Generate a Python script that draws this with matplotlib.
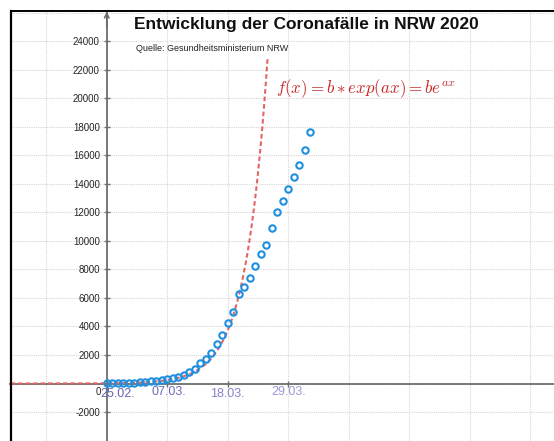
import numpy as np
import matplotlib
matplotlib.use("Agg")
import matplotlib.pyplot as plt
from matplotlib.lines import Line2D

# ---- data (days since 25.02.2020, cumulative cases NRW) ----
cases = [1, 4, 20, 30, 55, 70, 100, 115, 175, 200, 280, 350, 380, 480, 600,
         800, 1050, 1420, 1700, 2120, 2770, 3400, 4270, 4990, 6260, 6770,
         7380, 8260, 9120, 9730, 10920, 12050, 12830, 13670, 14470, 15310,
         16410, 17670]
days = np.arange(len(cases))

date_ticks = [0, 11, 22, 33]
date_labels = ["25.02.", "07.03.", "18.03.", "29.03."]
date_colors = ["#6464b4", "#6a6abc", "#8484c8", "#9898d4"]

y_ticks = [-2000, 2000, 4000, 6000, 8000, 10000, 12000, 14000, 16000,
           18000, 20000, 22000, 24000]

# exponential model f(x) = b * exp(a x)
a_param = 0.25
b_param = 15.3
f_top = 22900

W, H = 554, 441
fig = plt.figure(figsize=(W / 100, H / 100), dpi=100)
left_px, top_px = 10.5, 11
ax = fig.add_axes([left_px / W, 0, (W - left_px) / W, (H - top_px) / H])
ax.set_xlim(-17.5, 81.3)
ax.set_ylim(-4035, 26140)

# grid
for gx in np.arange(-11, 82, 11):
    ax.axvline(gx, color="#d6d6d6", lw=0.8, ls=(0, (1, 1)), zorder=0)
for gy in np.arange(-4000, 26001, 2000):
    ax.axhline(gy, color="#d6d6d6", lw=0.8, ls=(0, (1, 1)), zorder=0)

# axes through origin
for s in ["top", "right"]:
    ax.spines[s].set_visible(False)
ax.spines["left"].set_position(("data", 0))
ax.spines["bottom"].set_position(("data", 0))
ax.spines["left"].set_color("#6e6e6e")
ax.spines["bottom"].set_color("#6e6e6e")
ax.spines["left"].set_linewidth(1.3)
ax.spines["bottom"].set_linewidth(1.3)
ax.set_xticks(date_ticks)
ax.set_xticklabels([])
ax.set_yticks(y_ticks)
ax.set_yticklabels([str(v) for v in y_ticks], fontsize=7,
                   family=["Liberation Sans", "DejaVu Sans"], color="#262626")
ax.tick_params(axis="both", direction="inout", length=4, width=1, color="#6e6e6e")
ax.tick_params(axis="y", pad=3)

# arrow on y-axis
ax.annotate("", xy=(0, 26100), xytext=(0, 25000),
            arrowprops=dict(arrowstyle="->", color="#6e6e6e", lw=1.2,
                            shrinkA=0, shrinkB=0, mutation_scale=8))

# origin label
ax.annotate("0", xy=(0, 0), xytext=(-6, -6), textcoords="offset points",
            ha="center", va="center", fontsize=7,
            family=["Liberation Sans", "DejaVu Sans"], color="#262626")

# date labels
dx_pts = [8, 1, 0, 0]
dy_pts = [-7.8, -6.3, -7.8, -6.0]
for d, lab, c, ox, oy in zip(date_ticks, date_labels, date_colors, dx_pts, dy_pts):
    ax.annotate(lab, xy=(d, 0), xytext=(ox, oy), textcoords="offset points",
                ha="center", va="center", fontsize=9,
                family=["Liberation Sans", "DejaVu Sans"], color=c)

# model curve
x_end = np.log(f_top / b_param) / a_param
xf = np.linspace(-17.5, x_end, 500)
ax.plot(xf, b_param * np.exp(a_param * xf), color="#e46464", lw=1.5,
        ls=(0, (2.2, 1.4)), zorder=3)

# data
ax.plot(days, cases, "o", mfc="none", mec="#1f8fe0", mew=1.5, ms=4.6, zorder=4)

# frame
fig.add_artist(Line2D([left_px / W, left_px / W], [0, 1 - top_px / H],
                      color="black", lw=1.6))
fig.add_artist(Line2D([left_px / W, 1], [1 - top_px / H, 1 - top_px / H],
                      color="black", lw=1.4))

# texts
fig.text(306.5 / W, 1 - 25 / H, "Entwicklung der Coronafälle in NRW 2020",
         ha="center", va="center", fontsize=12.5, fontweight="bold",
         family=["Liberation Sans", "DejaVu Sans"], color="#111111")
fig.text(136 / W, 1 - 48.5 / H, "Quelle: Gesundheitsministerium NRW",
         ha="left", va="center", fontsize=6.5,
         family=["Liberation Sans", "DejaVu Sans"], color="#222222")
plt.rcParams["mathtext.fontset"] = "cm"
fig.text(276 / W, 1 - 89 / H, r"$f(x) = b * exp(ax) = be^{ax}$",
         ha="left", va="center", fontsize=12.2, color="#c62828")

fig.savefig("out.png", dpi=100)
